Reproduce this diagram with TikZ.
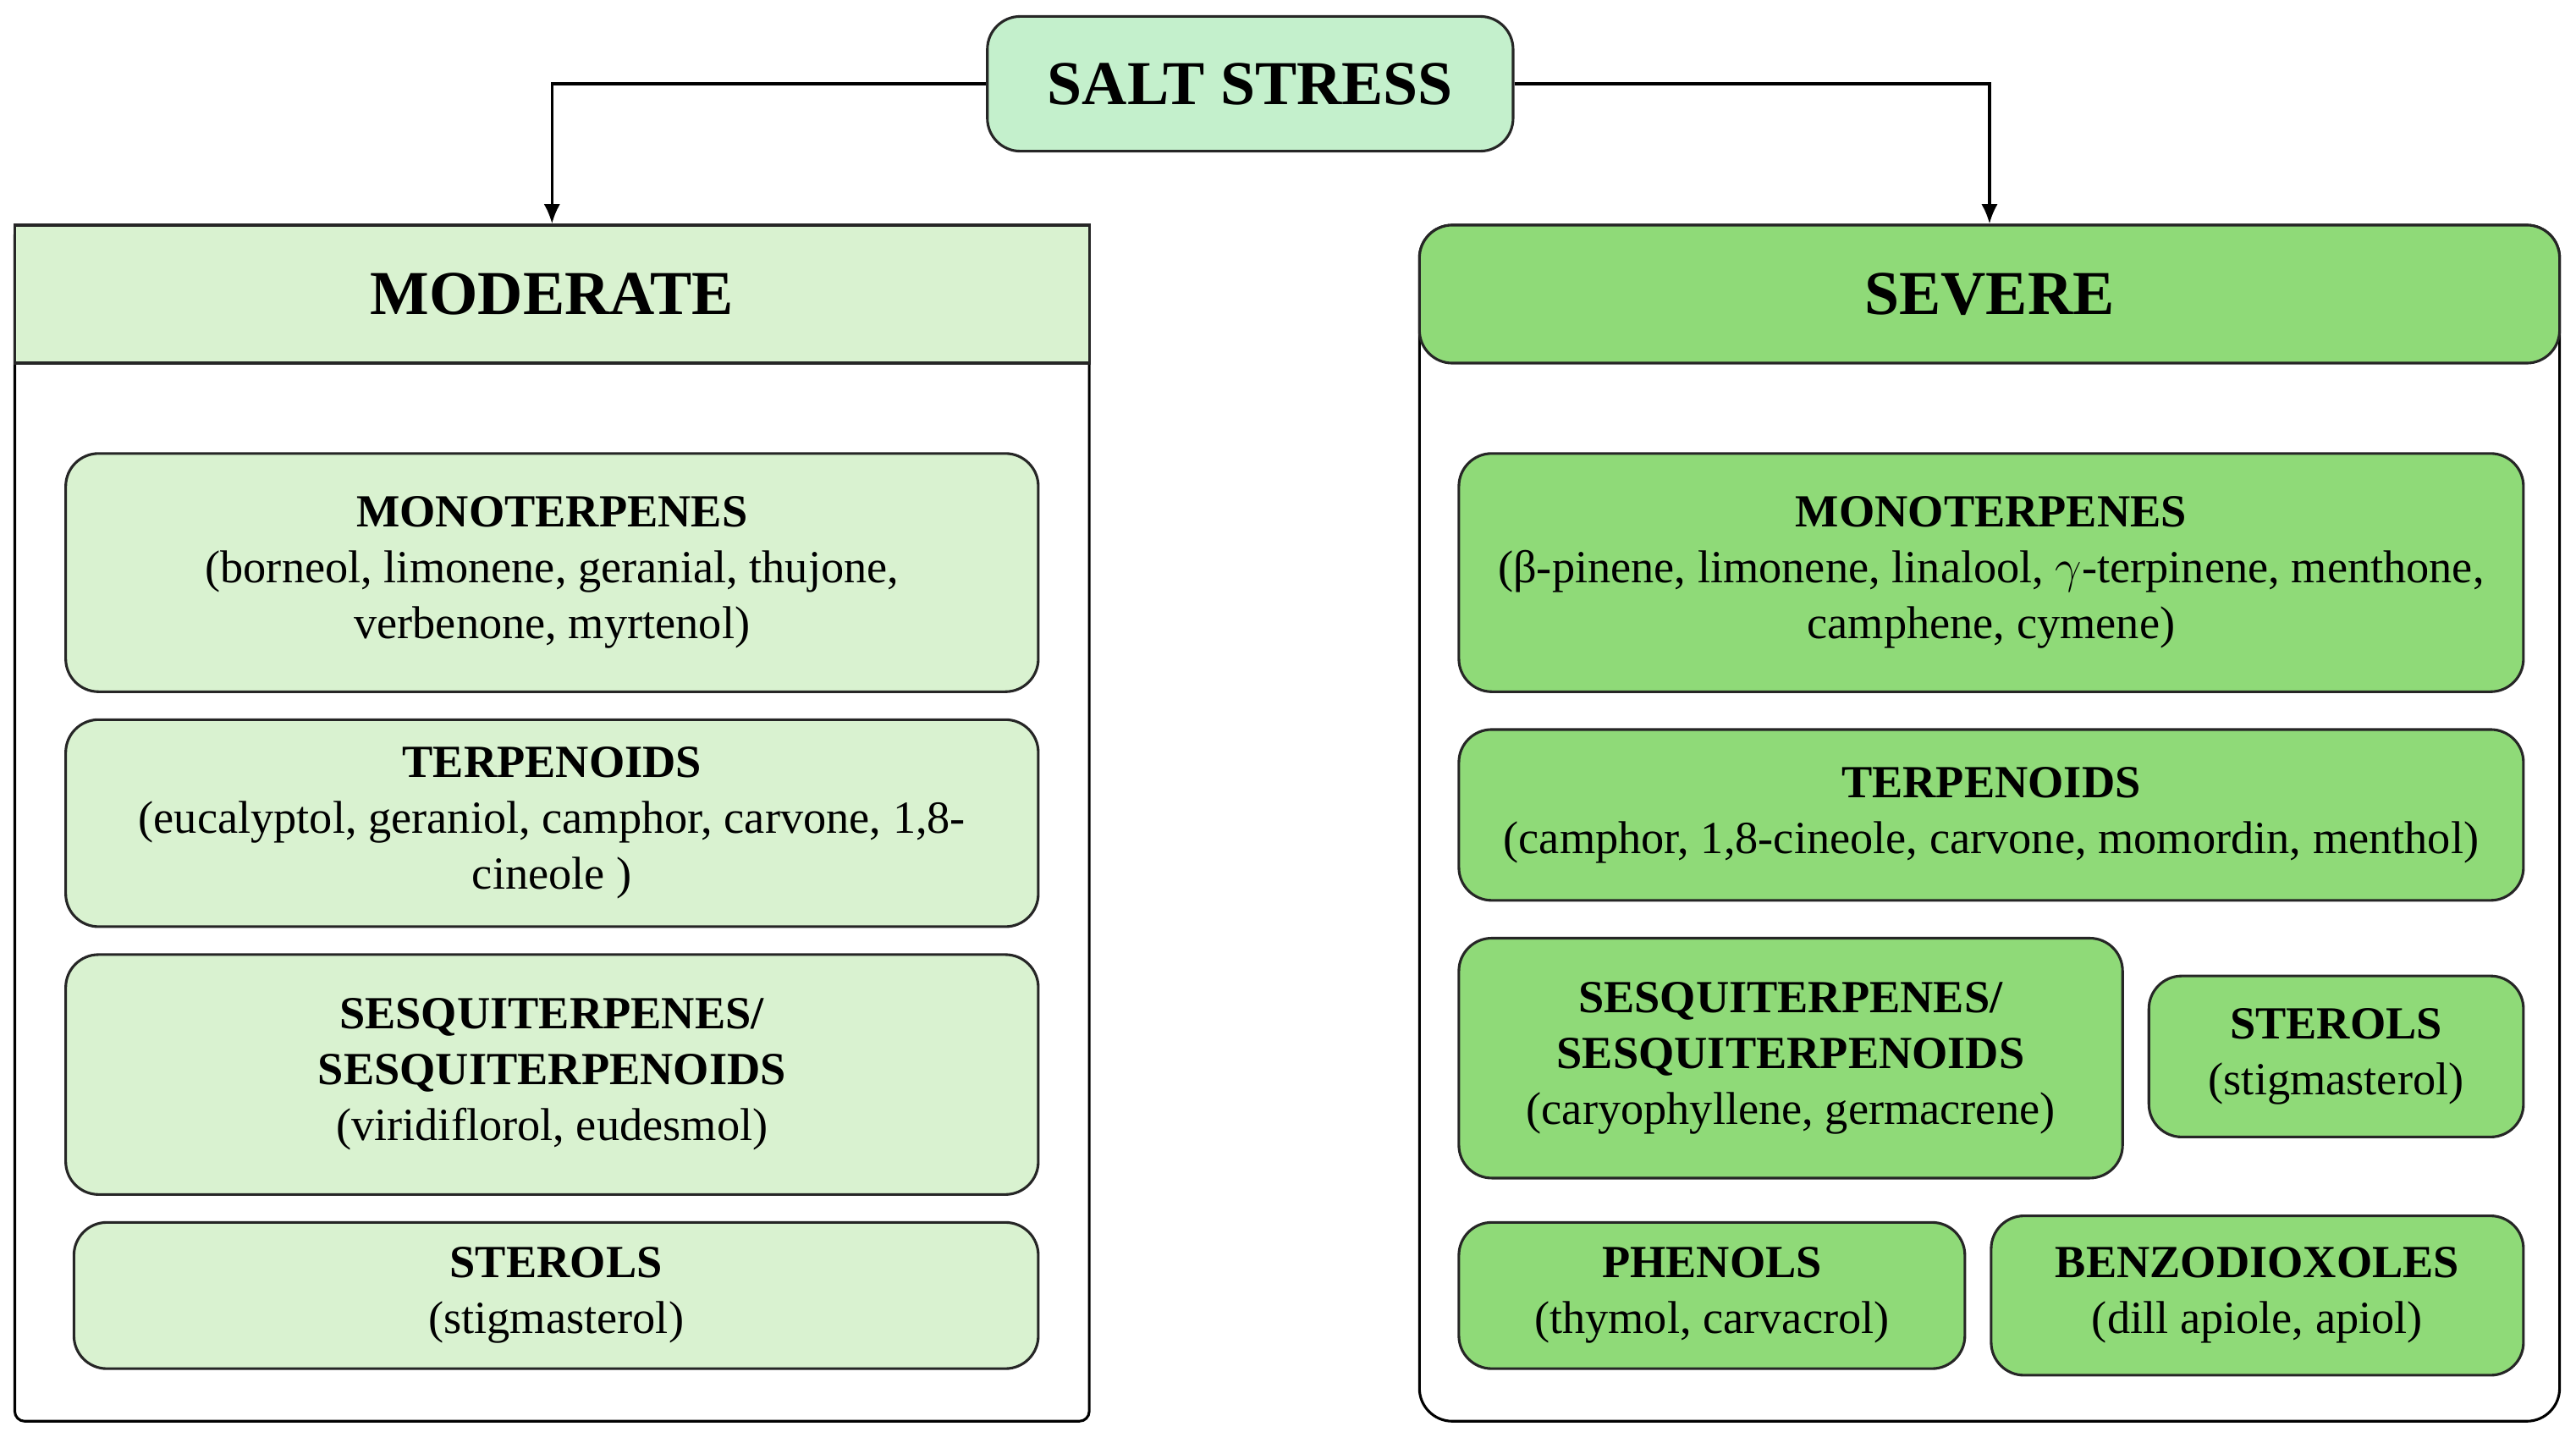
\documentclass[tikz,border=0pt]{standalone}
\usepackage{fontspec}
\setmainfont{Liberation Serif}
\usetikzlibrary{arrows.meta}
\definecolor{lg}{HTML}{D9F2D0}
\definecolor{sg}{HTML}{C4F0CC}
\definecolor{dg}{HTML}{8FDA78}
\begin{document}
\begin{tikzpicture}[x=0.5pt,y=-0.5pt,
  box/.style={draw=black!85,line width=0.8pt,rounded corners=10pt,align=center,inner sep=2pt,font=\fontsize{14}{17}\selectfont},
  lbox/.style={box,fill=lg},
  dbox/.style={box,fill=dg},
  head/.style={draw=black!85,line width=0.8pt,align=center,font=\fontsize{19}{22}\selectfont\bfseries}]
\useasboundingbox (0,0) rectangle (1568,878);
\draw[line width=0.8pt,rounded corners=3pt] (9,137) rectangle (663,865);
\draw[line width=0.8pt,rounded corners=10pt] (864,137) rectangle (1558,865);
\node[head,fill=lg,minimum width=327pt,minimum height=42pt] (mod) at (336,179) {MODERATE};
\node[head,fill=dg,rounded corners=10pt,minimum width=347pt,minimum height=42pt] (sev) at (1211,179) {SEVERE};
\node[head,fill=sg,rounded corners=10pt,minimum width=160pt,minimum height=41pt] (salt) at (761,51) {SALT STRESS};
\draw[line width=0.8pt,-{Latex[length=6pt,width=5pt]}] (salt.west) -| (mod.north);
\draw[line width=0.8pt,-{Latex[length=6pt,width=5pt]}] (salt.east) -| (sev.north);
\node[lbox,minimum width=296pt,minimum height=72.5pt] (lm) at (336,348.5) {\textbf{MONOTERPENES}\\(borneol, limonene, geranial, thujone,\\verbenone, myrtenol)};
\node[lbox,minimum width=296pt,minimum height=63pt] (lt) at (336,501) {\textbf{TERPENOIDS}\\(eucalyptol, geraniol, camphor, carvone, 1,8-\\cineole )};
\node[lbox,minimum width=296pt,minimum height=73pt] (ls) at (336,654) {\textbf{SESQUITERPENES/}\\\textbf{SESQUITERPENOIDS}\\(viridiflorol, eudesmol)};
\node[lbox,minimum width=293.5pt,minimum height=44.5pt] (lst) at (338.5,788.5) {\textbf{STEROLS}\\(stigmasterol)};
\node[dbox,minimum width=324pt,minimum height=72.5pt] (rm) at (1212,348.5) {\textbf{MONOTERPENES}\\(β-pinene, limonene, linalool, $\gamma$-terpinene, menthone,\\camphene, cymene)};
\node[dbox,minimum width=324pt,minimum height=52pt] (rt) at (1212,496) {\textbf{TERPENOIDS}\\(camphor, 1,8-cineole, carvone, momordin, menthol)};
\node[dbox,minimum width=202pt,minimum height=73pt] (rs) at (1090,644) {\textbf{SESQUITERPENES/}\\\textbf{SESQUITERPENOIDS}\\(caryophyllene, germacrene)};
\node[dbox,minimum width=114pt,minimum height=49pt] (rst) at (1422,643) {\textbf{STEROLS}\\(stigmasterol)};
\node[dbox,minimum width=154pt,minimum height=44.5pt] (rp) at (1042,788.5) {\textbf{PHENOLS}\\(thymol, carvacrol)};
\node[dbox,minimum width=162pt,minimum height=48.5pt] (rb) at (1374,788.5) {\textbf{BENZODIOXOLES}\\(dill apiole, apiol)};
\end{tikzpicture}
\end{document}
